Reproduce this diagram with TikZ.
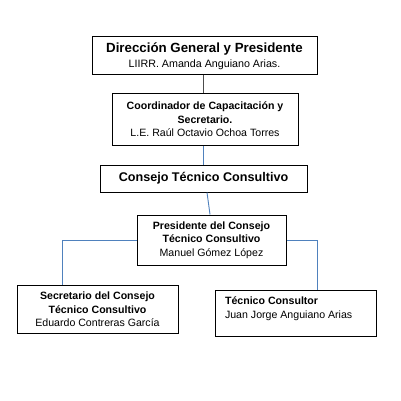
\documentclass[tikz,border=0pt]{standalone}
\usepackage{fontspec}
\setmainfont{Liberation Sans}
\definecolor{linkblue}{RGB}{79,129,189}
\begin{document}
\begin{tikzpicture}[x=1pt,y=-1pt,
  box/.style={draw=black,line width=1pt,fill=white,align=center,inner sep=2pt,
    font=\fontsize{10.6}{13.5}\selectfont},
  link/.style={draw=linkblue,line width=0.9pt},
  darklink/.style={draw=black!70,line width=0.8pt}]
\useasboundingbox[fill=white] (0,0) rectangle (401,401);

\node[box,minimum width=225,minimum height=38,font=\fontsize{10.7}{15.5}\selectfont] (b1) at (204.5,56)
  {{\fontsize{13.3}{15}\selectfont\bfseries Dirección General y Presidente}\\LIIRR. Amanda Anguiano Arias.};
\node[box,minimum width=186,minimum height=52] (b2) at (205,119.5)
  {\textbf{Coordinador de Capacitación y}\\\textbf{Secretario.}\\L.E. Raúl Octavio Ochoa Torres};
\node[box,minimum width=207,minimum height=27] (b3) at (203.5,178.5)
  {\fontsize{12.6}{15}\selectfont\bfseries Consejo Técnico Consultivo};
\node[box,minimum width=149,minimum height=50] (b4) at (211.5,240)
  {\textbf{Presidente del Consejo}\\\textbf{Técnico Consultivo}\\Manuel Gómez López};
\node[box,minimum width=161,minimum height=48] (b5) at (97.5,309.5)
  {\textbf{Secretario del Consejo}\\\textbf{Técnico Consultivo}\\Eduardo Contreras García};
\node[box,minimum width=161,minimum height=46,
  label={[anchor=north west,align=left,xshift=7pt,yshift=-4pt,font=\fontsize{10.6}{13.5}\selectfont]north west:\textbf{Técnico Consultor}\\Juan Jorge Anguiano Arias}] (b6) at (295.5,313) {};

\draw[darklink] ([xshift=-1.5pt]b1.south) -- ([xshift=-2pt]b2.north);
\draw[link] ([xshift=-2pt]b2.south) -- ([xshift=-0.5pt]b3.north);
\draw[link] ([xshift=3.5pt]b3.south) -- ([xshift=-1.5pt]b4.north);
\draw[link] (b4.west) -| ([xshift=-35.5pt]b5.north);
\draw[link] (b4.east) -| ([xshift=21.5pt]b6.north);
\end{tikzpicture}
\end{document}
